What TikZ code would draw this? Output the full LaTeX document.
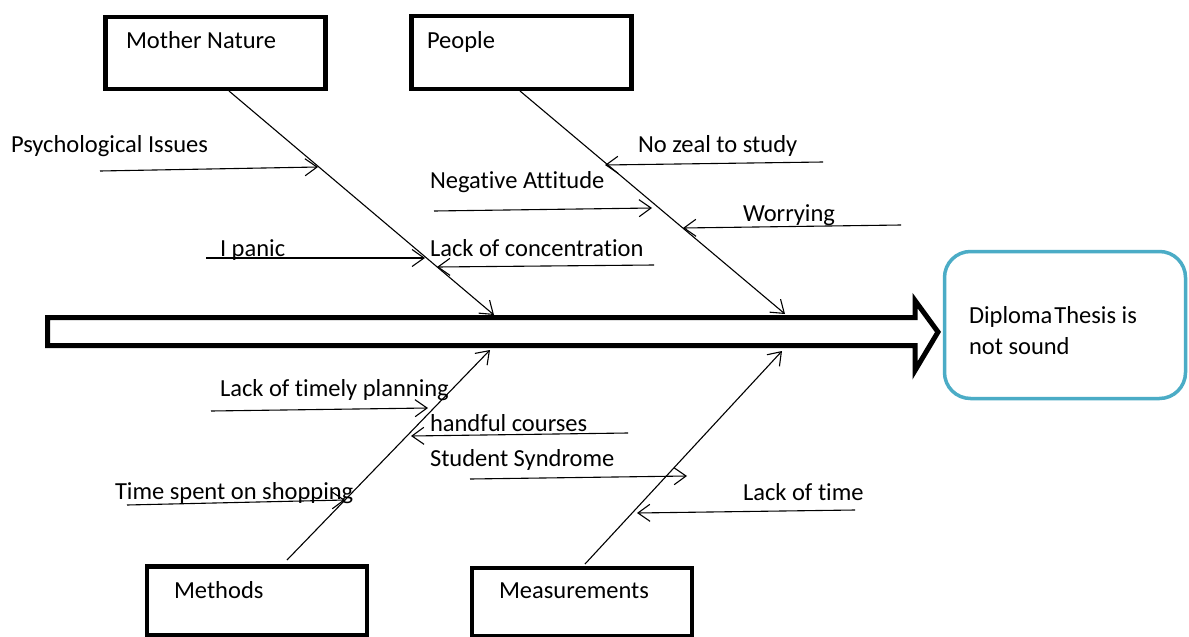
\documentclass[tikz,border=0pt]{standalone}
\usepackage{fontspec}
\setmainfont[Ligatures=NoCommon]{Carlito}
\usetikzlibrary{arrows.meta}
\definecolor{effblue}{HTML}{4BACC6}
\begin{document}
\begin{tikzpicture}[x=1pt,y=-1pt,
  catbox/.style={draw=black,line width=4.5pt,minimum width=220pt,inner sep=0pt,outer sep=0pt},
  effbox/.style={draw=effblue,line width=3.5pt,rounded corners=26pt,minimum width=241pt,minimum height=147pt,inner sep=0pt,outer sep=0pt},
  lbl/.style={anchor=base west,inner sep=0pt,outer sep=0pt,font=\fontsize{24.5}{29}\selectfont},
  bone/.style={line width=1.1pt,-{Straight Barb[length=12pt,width=17pt,line width=1.1pt]}},
  shaft/.style={draw=black,line width=5pt,miter limit=10}
  ]
\useasboundingbox[fill=white] (0,0) rectangle (1189,637);

% category boxes
\node[catbox,minimum height=72pt] (mn) at (215.5,53) {};
\node[catbox,minimum height=73pt] (pp) at (521.5,52.5) {};
\node[catbox,minimum height=69pt] (me) at (257,601) {};
\node[catbox,minimum height=68pt] (ms) at (582,602) {};

\node[lbl] (mnt) at (126,48) {Mother Nature};
\node[lbl] (ppt) at (427,48) {People};
\node[lbl] (met) at (174,598) {Methods};
\node[lbl] (mst) at (499,598) {Measurements};

% effect box
\node[effbox] (eff) at (1065,325) {};
\node[lbl] (eff1) at (969,323) {Diploma\hspace{2pt}Thesis is};
\node[lbl] (eff2) at (969,354) {not sound};

% main spine
\draw[shaft] (47.5,317.5) -- (915,317.5) -- (915,300.5) -- (938,332) -- (915,370.5) -- (915,345.5) -- (47.5,345.5) -- cycle;

% bone coordinates
\coordinate (mnS) at (229,91);   \coordinate (mnT) at (494,315);
\coordinate (ppS) at (520,91);   \coordinate (ppT) at (785,314);
\coordinate (meS) at (287,560);  \coordinate (meT) at (490,350);
\coordinate (msS) at (585,564);  \coordinate (msT) at (782,351);

\draw[bone] (mnS) -- (mnT);
\draw[bone] (ppS) -- (ppT);
\draw[bone] (meS) -- (meT);
\draw[bone] (msS) -- (msT);

% cause arrows
\coordinate (a1s) at (100,171); \coordinate (a1t) at (318,167);
\coordinate (a2s) at (434,211); \coordinate (a2t) at (652,208);
\coordinate (a3s) at (206,258); \coordinate (a3t) at (425,258);
\coordinate (a4s) at (654,265); \coordinate (a4t) at (437,267);
\coordinate (a5s) at (823,162); \coordinate (a5t) at (605,165);
\coordinate (a6s) at (901,225); \coordinate (a6t) at (683,228);
\coordinate (a7s) at (211,411); \coordinate (a7t) at (428,408);
\coordinate (a8s) at (628,433); \coordinate (a8t) at (411,436);
\coordinate (a9s) at (470,479); \coordinate (a9t) at (687,476);
\coordinate (a10s) at (127,505); \coordinate (a10t) at (345,500);
\coordinate (a11s) at (855,510); \coordinate (a11t) at (637,513);

\foreach \i in {1,...,11} {\draw[bone] (a\i s) -- (a\i t);}

% cause labels
\node[lbl] (l1) at (11,152) {Psychological Issues};
\node[lbl] (l2) at (430,188) {Negative Attitude};
\node[lbl] (l3) at (220,256) {I panic};
\node[lbl] (l4) at (430,256) {Lack of concentration};
\node[lbl] (l5) at (638,152) {No zeal to study};
\node[lbl] (l6) at (743,221) {Worrying};
\node[lbl] (l7) at (220,396) {Lack of timely planning};
\node[lbl] (l8) at (430,431) {handful courses};
\node[lbl] (l9) at (430,466) {Student Syndrome};
\node[lbl] (l10) at (115,499) {Time spent on shopping};
\node[lbl] (l11) at (743,500) {Lack of time};
\end{tikzpicture}
\end{document}
